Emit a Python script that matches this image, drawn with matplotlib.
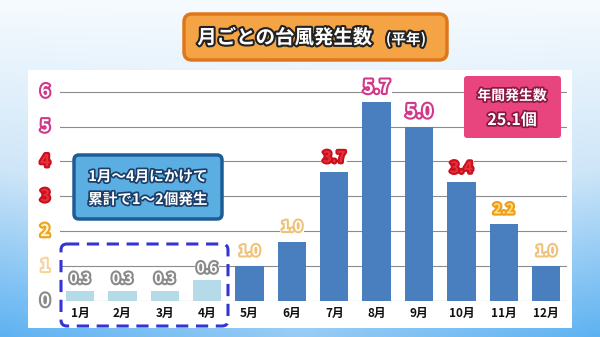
import numpy as np
import matplotlib
matplotlib.use("Agg")
import matplotlib.pyplot as plt
import matplotlib.patheffects as pe
from matplotlib.patches import FancyBboxPatch
from matplotlib.colors import LinearSegmentedColormap

plt.rcParams['font.family'] = ['Noto Sans CJK JP', 'DejaVu Sans']

months = ['1月', '2月', '3月', '4月', '5月', '6月', '7月', '8月', '9月', '10月', '11月', '12月']
bar_heights = [0.3, 0.3, 0.3, 0.6, 1.0, 1.7, 3.7, 5.7, 5.0, 3.4, 2.2, 1.0]
bar_labels = ['0.3', '0.3', '0.3', '0.6', '1.0', '1.0', '3.7', '5.7', '5.0', '3.4', '2.2', '1.0']
yticks = [0, 1, 2, 3, 4, 5, 6]

# colours per tick / per label
tick_fill = ['white', 'white', '#fff3c8', '#e8303a', '#e8303a', 'white', 'white']
tick_edge = ['#8a8a8a', '#f6d49a', '#f0a21e', '#c8101e', '#c8101e', '#d2388a', '#d2388a']
lab_fill = {'0.3': 'white', '0.6': 'white', '1.0': 'white', '2.2': '#ffe070',
            '3.4': '#e8303a', '3.7': '#e8303a', '5.0': 'white', '5.7': 'white'}
lab_edge = {'0.3': '#8a8a8a', '0.6': '#8a8a8a', '1.0': '#f0c27a', '2.2': '#f09a1e',
            '3.4': '#c8101e', '3.7': '#c8101e', '5.0': '#d2388a', '5.7': '#d2388a'}

W, H = 600, 337
fig = plt.figure(figsize=(6, 3.37), dpi=100)

# background
bg = fig.add_axes([0, 0, 1, 1], zorder=0)
bg.set_xlim(0, W)
bg.set_ylim(H, 0)
bg.axis('off')
yy, xx = np.mgrid[0:1:200j, 0:1:300j]
grad = 0.75 * yy + 0.25 * yy * np.abs(xx - 0.5) * 2
cmap = LinearSegmentedColormap.from_list('bgc', ['#f6fbff', '#cfe6f8', '#5eb2f2'])
bg.imshow(grad, extent=(0, W, H, 0), cmap=cmap, aspect='auto', vmin=0, vmax=1)
bg.add_patch(plt.Rectangle((28, 70), 544, 258, facecolor='white', edgecolor='none'))

# title box
bg.add_patch(FancyBboxPatch((184, 14), 263, 46, boxstyle='round,pad=0,rounding_size=8',
                            facecolor='#f4a444', edgecolor='#e0761a', linewidth=2.5))
outline = [pe.Stroke(linewidth=3, foreground='#222222'), pe.Normal()]
bg.text(285, 38, '月ごとの台風発生数', ha='center', va='center', fontsize=14,
        fontweight='bold', color='white', path_effects=outline)
bg.text(406, 39, '(平年)', ha='center', va='center', fontsize=10.5,
        fontweight='bold', color='white', path_effects=outline)

# chart axes
x0, x1, ytop, ybot = 60, 567, 80, 301
ax = fig.add_axes([x0 / W, (H - ybot) / H, (x1 - x0) / W, (ybot - ytop) / H], zorder=1)
ax.patch.set_alpha(0)
xs = np.arange(len(months))
ax.set_xlim(-0.47, 11.49)
ax.set_ylim(0, (ybot - ytop) / 34.9)
for v in yticks:
    ax.axhline(v, color='#8c8c8c', lw=0.8, zorder=1)
colors = ['#b5dbe8'] * 4 + ['#4a7fbf'] * 8
ax.bar(xs, bar_heights, width=0.67, color=colors, zorder=2)
for sp in ax.spines.values():
    sp.set_visible(False)
ax.set_yticks([])
ax.set_xticks(xs)
ax.set_xticklabels(months, fontsize=8.5, fontweight='bold', color='#111111')
ax.tick_params(axis='x', length=0, pad=4)

for v, f, e in zip(yticks, tick_fill, tick_edge):
    ax.text(-0.82, v, str(v), ha='center', va='center', fontsize=12, fontweight='bold',
            color=f, path_effects=[pe.Stroke(linewidth=3, foreground=e), pe.Normal()])

for i, (h, lab) in enumerate(zip(bar_heights, bar_labels)):
    fs = 13 if lab in ('5.7', '5.0') else (11 if lab in ('3.7', '3.4') else 10)
    off = 0.33 if i < 4 else 0.42
    ax.text(i, h + off, lab, ha='center', va='center', fontsize=fs, fontweight='bold',
            color=lab_fill[lab], zorder=3,
            bbox=dict(facecolor='white', edgecolor='none', pad=1),
            path_effects=[pe.Stroke(linewidth=3, foreground=lab_edge[lab]), pe.Normal()])

# overlay for callouts
ov = fig.add_axes([0, 0, 1, 1], zorder=3)
ov.set_xlim(0, W)
ov.set_ylim(H, 0)
ov.axis('off')
ov.patch.set_alpha(0)

ov.add_patch(FancyBboxPatch((61, 244), 167, 82, boxstyle='round,pad=0,rounding_size=6',
                            facecolor='none', edgecolor='#3434d4', linewidth=2.2,
                            linestyle=(0, (4, 2.5))))

ov.add_patch(FancyBboxPatch((74, 155), 148, 64, boxstyle='round,pad=0,rounding_size=5',
                            facecolor='#5aaee2', edgecolor='#1d5d94', linewidth=2.5))
dark = [pe.Stroke(linewidth=2.5, foreground='#1b3f6a'), pe.Normal()]
ov.text(148, 176, '1月～4月にかけて', ha='center', va='center', fontsize=10.5,
        fontweight='bold', color='white', path_effects=dark)
ov.text(148, 199, '累計で1～2個発生', ha='center', va='center', fontsize=10.5,
        fontweight='bold', color='white', path_effects=dark)

ov.add_patch(FancyBboxPatch((464, 76), 97, 62, boxstyle='round,pad=0,rounding_size=3',
                            facecolor='#e8457e', edgecolor='none'))
pk = [pe.Stroke(linewidth=2.5, foreground='#8a1840'), pe.Normal()]
ov.text(512, 96, '年間発生数', ha='center', va='center', fontsize=10,
        fontweight='bold', color='white', path_effects=pk)
ov.text(512, 120, '25.1個', ha='center', va='center', fontsize=11.5,
        fontweight='bold', color='white', path_effects=pk)

fig.savefig('out.png', dpi=100)
